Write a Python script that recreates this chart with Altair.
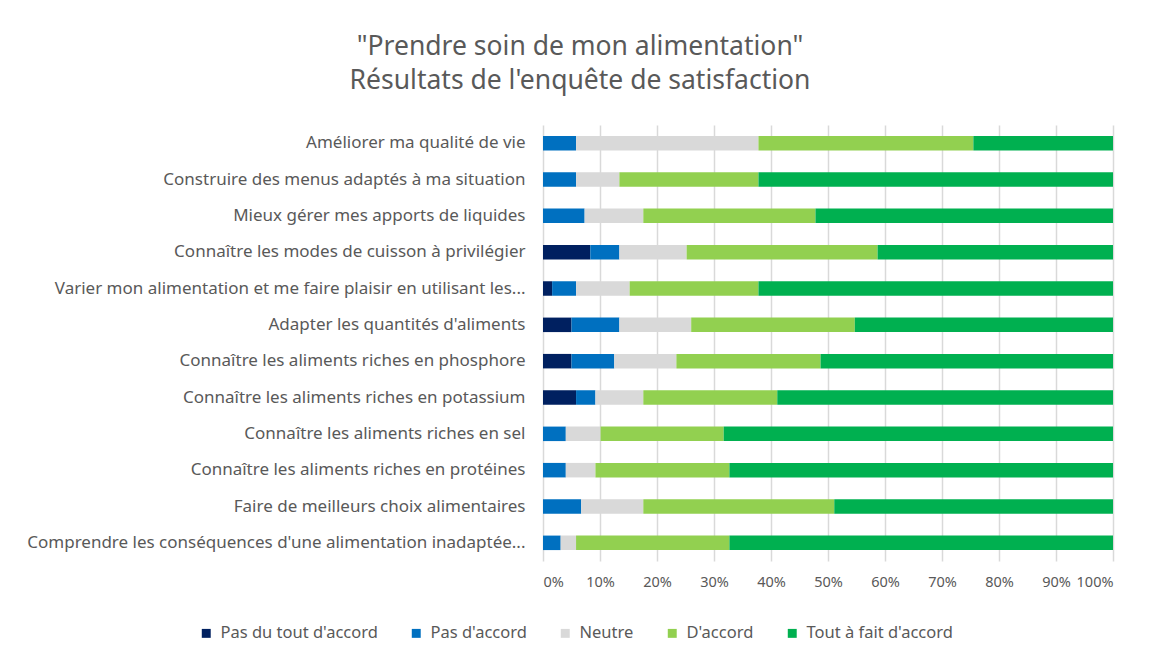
import altair as alt
import pandas as pd

categories = [
    "Améliorer ma qualité de vie",
    "Construire des menus adaptés à ma situation",
    "Mieux gérer mes apports de liquides",
    "Connaître les modes de cuisson à privilégier",
    "Varier mon alimentation et me faire plaisir en utilisant les...",
    "Adapter les quantités d'aliments",
    "Connaître les aliments riches en phosphore",
    "Connaître les aliments riches en potassium",
    "Connaître les aliments riches en sel",
    "Connaître les aliments riches en protéines",
    "Faire de meilleurs choix alimentaires",
    "Comprendre les conséquences d'une alimentation inadaptée...",
]
levels = ["Pas du tout d'accord", "Pas d'accord", "Neutre", "D'accord", "Tout à fait d'accord"]
colors = ["#002060", "#0070C0", "#D9D9D9", "#92D050", "#00B050"]

pas_du_tout = [0, 0, 0, 8.3, 1.6, 5.0, 5.0, 5.8, 0, 0, 0, 0]
pas_accord = [5.8, 5.8, 7.3, 5.1, 4.2, 8.4, 7.5, 3.4, 4.0, 4.0, 6.7, 3.1]
neutre = [32.0, 7.6, 10.3, 11.8, 9.4, 12.6, 10.9, 8.4, 6.1, 5.2, 10.9, 2.7]
d_accord = [37.7, 24.4, 30.2, 33.5, 22.6, 28.7, 25.3, 23.5, 21.6, 23.5, 33.5, 26.9]
tout_a_fait = [24.5, 62.2, 52.2, 41.3, 62.2, 45.3, 51.3, 58.9, 68.3, 67.3, 48.9, 67.3]

series = [pas_du_tout, pas_accord, neutre, d_accord, tout_a_fait]
rows = []
for li, (lvl, vals) in enumerate(zip(levels, series)):
    for cat, v in zip(categories, vals):
        rows.append({"cat": cat, "niveau": lvl, "val": v, "ordre": li})
df = pd.DataFrame(rows)

FONT = "Noto Sans"
GREY = "#595959"

chart = alt.Chart(df).mark_bar(size=14.5).encode(
    y=alt.Y("cat:N", sort=categories, title=None,
            axis=alt.Axis(labelLimit=600, labelFontSize=17, labelColor=GREY, labelFont=FONT,
                          ticks=False, domain=False, labelPadding=18)),
    x=alt.X("val:Q", stack="normalize", title=None,
            scale=alt.Scale(domain=[0, 1], nice=False),
            axis=alt.Axis(format=".0%", values=[i / 10 for i in range(11)], labelFontSize=14.5,
                          labelColor=GREY, labelFont=FONT, ticks=False, domain=False,
                          labelOverlap=False, labelBound=False,
                          gridColor="#D9D9D9", gridWidth=1.5, labelPadding=14)),
    color=alt.Color("niveau:N", sort=levels,
                    scale=alt.Scale(domain=levels, range=colors),
                    legend=alt.Legend(title=None, orient="none", direction="horizontal",
                                      legendX=-345, legendY=500, symbolType="square",
                                      symbolSize=80, labelFontSize=16.5, labelColor=GREY,
                                      labelFont=FONT, columnPadding=30, labelOffset=6,
                                      labelLimit=400, symbolStrokeWidth=0)),
    order=alt.Order("ordre:Q"),
).properties(
    width=570,
    height=436,
    title=alt.TitleParams(text=['"Prendre soin de mon alimentation"', "Résultats de l'enquête de satisfaction"],
                          fontSize=26.5, font="Noto Sans", fontWeight="normal",
                          color=GREY, anchor="middle", dx=-248, offset=31, lineHeight=34),
    autosize=alt.AutoSizeParams(type="none"),
    padding={"left": 535, "top": 117, "right": 25, "bottom": 90},
).configure_view(stroke=None).configure_axis(gridOpacity=1)

chart.save("out.html", embed_options={"renderer": "svg", "actions": False})
